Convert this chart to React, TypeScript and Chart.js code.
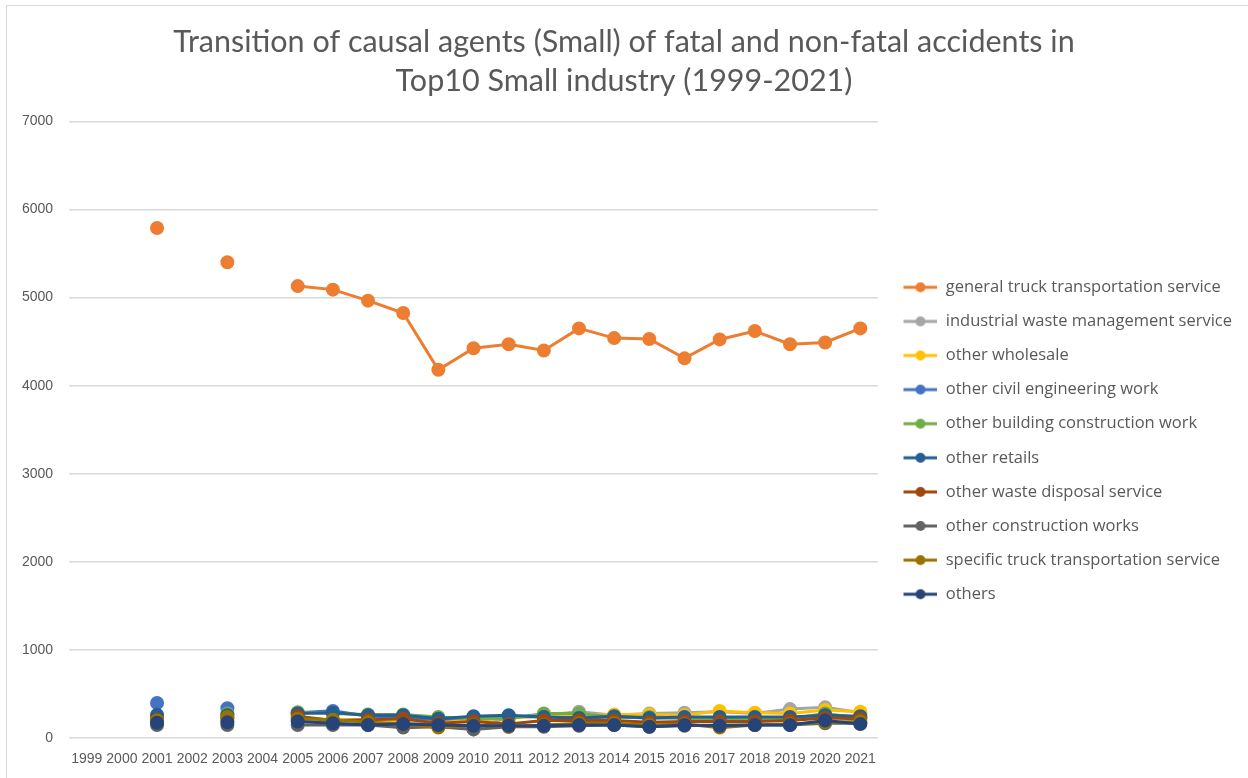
import React, { useEffect, useRef } from "react";
import { Chart, registerables } from "chart.js";

Chart.register(...registerables);

const years = ["1999","2000","2001","2002","2003","2004","2005","2006","2007","2008","2009","2010","2011","2012","2013","2014","2015","2016","2017","2018","2019","2020","2021"];

const seriesNames = [
  "general truck transportation service",
  "industrial waste management service",
  "other wholesale",
  "other civil engineering work",
  "other building construction work",
  "other retails",
  "other waste disposal service",
  "other construction works",
  "specific truck transportation service",
  "others",
];

const seriesColors = ["#ED7D31","#A5A5A5","#FFC000","#4472C4","#70AD47","#255E91","#9E480E","#636363","#997300","#264478"];

const N = null;
const generalTruck = [N,N,5790,N,5400,N,5130,5090,4965,4825,4180,4425,4470,4400,4650,4540,4530,4310,4525,4620,4470,4490,4650];
const industrialWaste = [N,N,190,N,190,N,200,190,200,180,150,100,240,260,300,260,280,290,300,280,330,350,290];
const otherWholesale = [N,N,230,N,220,N,230,210,210,200,210,200,230,250,260,270,270,260,310,290,280,320,300];
const civilEngineering = [N,N,400,N,340,N,290,310,250,240,210,240,250,240,230,240,230,230,220,230,230,250,240];
const buildingConstruction = [N,N,255,N,280,N,295,280,270,270,240,220,220,280,280,240,240,230,200,220,220,280,230];
const otherRetails = [N,N,265,N,260,N,280,290,260,260,220,250,260,240,230,250,230,240,240,240,240,260,250];
const wasteDisposal = [N,N,210,N,230,N,250,200,210,220,170,190,160,200,200,200,180,190,190,190,200,230,220];
const otherConstruction = [N,N,150,N,150,N,150,150,150,120,130,100,130,130,140,150,130,140,150,150,150,170,170];
const specificTruck = [N,N,200,N,240,N,220,210,180,160,120,150,130,150,170,170,150,160,120,150,160,180,190];
const others = [N,N,175,N,180,N,190,170,150,160,150,140,140,140,150,150,130,150,140,150,150,200,160];

const seriesValues = [generalTruck, industrialWaste, otherWholesale, civilEngineering, buildingConstruction, otherRetails, wasteDisposal, otherConstruction, specificTruck, others];

const yTicks = [0, 1000, 2000, 3000, 4000, 5000, 6000, 7000];

const titleLines = [
  "Transition of causal agents (Small) of fatal and non-fatal accidents in",
  "Top10 Small industry (1999-2021)",
];

function legendIcon(color: string): HTMLCanvasElement {
  const c = document.createElement("canvas");
  c.width = 42;
  c.height = 12;
  const ctx = c.getContext("2d")!;
  ctx.strokeStyle = color;
  ctx.lineWidth = 3;
  ctx.beginPath();
  ctx.moveTo(8, 6);
  ctx.lineTo(42, 6);
  ctx.stroke();
  ctx.fillStyle = color;
  ctx.beginPath();
  ctx.arc(25, 6, 5, 0, Math.PI * 2);
  ctx.fill();
  return c;
}

// Chart.js caps a side legend at a quarter of the width; allow a wider legend box.
const wideLegendPlugin = {
  id: "wideLegend",
  afterInit(chart: any) {
    const legend = chart.legend;
    if (legend && !legend.__wide) {
      const orig = legend.update.bind(legend);
      legend.update = (w: number, h: number, m: any) => orig(Math.max(w, 400), h, m);
      legend.__wide = true;
    }
  },
};

export default function App() {
  const ref = useRef<HTMLCanvasElement | null>(null);

  useEffect(() => {
    if (!ref.current) return;
    const font = "'Liberation Sans', Arial, sans-serif";
    const datasets = seriesNames.map((name, i) => ({
      label: name,
      data: seriesValues[i],
      borderColor: seriesColors[i],
      backgroundColor: seriesColors[i],
      pointBackgroundColor: seriesColors[i],
      pointBorderColor: seriesColors[i],
      borderWidth: 3,
      pointRadius: 5.5,
      pointHoverRadius: 5.5,
      spanGaps: false,
      tension: 0,
      order: seriesNames.length - i,
    }));
    const icons = seriesColors.map((c) => legendIcon(c));
    const chart = new Chart(ref.current, {
      type: "line",
      data: { labels: years, datasets },
      plugins: [wideLegendPlugin],
      options: {
        animation: false,
        responsive: false,
        maintainAspectRatio: false,
        layout: { padding: { left: 6, right: 6, top: 0, bottom: 5 } },
        plugins: {
          title: {
            display: true,
            text: titleLines,
            color: "#595959",
            font: { family: "Lato, 'Liberation Sans', sans-serif", size: 30.5, weight: "normal", lineHeight: 1.3 },
            padding: { top: 22, bottom: 20 },
          },
          legend: {
            position: "right",
            fullSize: false,
            title: {
              display: true,
              text: " ",
              font: { size: 10 },
              padding: { top: 0, bottom: 10 },
            },
            labels: {
              color: "#595959",
              font: { family: "'Open Sans', sans-serif", size: 16.5 },
              usePointStyle: true,
              pointStyleWidth: 42,
              padding: 17.6,
              generateLabels: () =>
                seriesNames.map((name, i) => ({
                  text: name,
                  fillStyle: seriesColors[i],
                  strokeStyle: seriesColors[i],
                  fontColor: "#595959",
                  pointStyle: icons[i],
                  lineWidth: 0,
                  hidden: false,
                  datasetIndex: i,
                })),
            },
          },
          tooltip: { enabled: false },
        },
        scales: {
          x: {
            type: "category",
            offset: true,
            grid: { display: false },
            border: { display: false },
            ticks: {
              color: "#595959",
              font: { family: font, size: 14 },
              autoSkip: false,
              maxRotation: 0,
              minRotation: 0,
              padding: 5,
            },
          },
          y: {
            min: 0,
            max: 7000,
            afterBuildTicks: (axis: any) => {
              axis.ticks = yTicks.map((v) => ({ value: v }));
            },
            grid: { color: "#D9D9D9", lineWidth: 1.5, drawTicks: false },
            border: { display: false },
            ticks: {
              color: "#595959",
              font: { family: font, size: 14 },
              padding: 16,
              callback: (v: any) => String(v),
            },
          },
        },
      },
    });
    return () => chart.destroy();
  }, []);

  return (
    <div style={{ position: "fixed", left: 0, top: 0, width: 1248, height: 778, background: "#fff" }}>
      <div style={{ position: "absolute", left: 6, top: 5, width: 1250, height: 780, border: "1px solid #D9D9D9", boxSizing: "border-box" }} />
      <canvas ref={ref} width={1248} height={778} style={{ position: "absolute", left: 0, top: 0 }} />
    </div>
  );
}
